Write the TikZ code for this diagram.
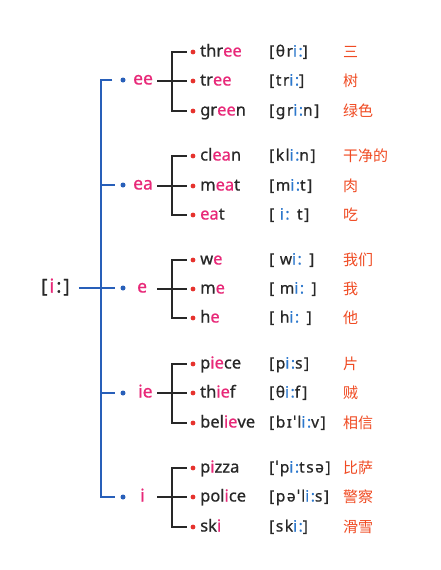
\documentclass[tikz,border=0pt]{standalone}
\usepackage{fontspec}
\setmainfont{Noto Sans}
\newfontfamily\wordfont[FakeBold=0.7]{Noto Sans}
\newfontfamily\phonfont[LetterSpace=10,FakeBold=0.7]{Noto Sans}
\newfontfamily\cjkfont{Noto Sans CJK SC}
\definecolor{ink}{RGB}{40,40,40}
\definecolor{bl}{RGB}{40,95,185}
\definecolor{pk}{RGB}{232,40,120}
\definecolor{rd}{RGB}{230,50,45}
\definecolor{cnred}{RGB}{240,75,35}
\definecolor{phb}{RGB}{45,120,205}
\newcommand\pinkpart[1]{\textcolor{pk}{#1}}
\newcommand\bluepart[1]{\textcolor{phb}{#1}}
\tikzset{
  wordtxt/.style={anchor=west, inner sep=0pt, text height=12pt, text depth=3pt, text=ink, font=\wordfont\fontsize{16.5}{18}\selectfont},
  phon/.style={anchor=west, inner sep=0pt, text height=12pt, text depth=3pt, text=ink, font=\phonfont\fontsize{15.5}{17}\selectfont},
  cn/.style={anchor=west, inner sep=0pt, text=cnred, font=\cjkfont\fontsize{15}{17}\selectfont},
  grp/.style={anchor=west, inner sep=0pt, text height=12pt, text depth=3pt, text=pk, font=\wordfont\fontsize{17.5}{19}\selectfont},
  rdot/.style={circle, fill=rd, inner sep=0pt, minimum size=4.8pt},
  bdot/.style={circle, fill=bl, inner sep=0pt, minimum size=5pt},
  blk/.style={draw=ink, line width=1.1pt},
  blu/.style={draw=bl, line width=1.3pt},
}
\newcommand\wrow[5]{%
  \node[rdot] (d#1) at (193,#2) {};
  \node[wordtxt] (w#1) at (200,#2) {#3};
  \node[phon] (p#1) at (269,#2) {#4};
  \node[cn] (c#1) at (343,#2) {#5};
}
\newcommand\grpbracket[5]{% name, y, row a, row b, row c
  \coordinate (j#1) at (172,#2);
  \coordinate (s#1) at (157,#2);
  \draw[blk] ([xshift=-3.5pt]d#3.west) -- (j#1 |- d#3) -- (j#1 |- d#5) -- ([xshift=-3.5pt]d#5.west);
  \draw[blk] (s#1 |- d#4) -- ([xshift=-3.5pt]d#4.west);
}
\begin{document}
\begin{tikzpicture}[x=1pt,y=-1pt]
\useasboundingbox[fill=white] (0,0) rectangle (440,570);

% root
\node[wordtxt, font=\wordfont\fontsize{19}{21}\selectfont] (root) at (41,288) {[\kern2pt\pinkpart{i}\kern2pt:\kern2pt]};

% group dots and labels
\node[bdot] (bee) at (123,80) {};
\node[grp] (gee) at (133,80) {ee};
\node[bdot] (bea) at (123,185) {};
\node[grp] (gea) at (133,185) {ea};
\node[bdot] (be) at (123,288) {};
\node[grp] (ge) at (137,288) {e};
\node[bdot] (bie) at (123,393) {};
\node[grp] (gie) at (138,393) {ie};
\node[bdot] (bi) at (123,497) {};
\node[grp] (gi) at (140,497) {i};

% rows
\wrow{three}{52}{thr\pinkpart{ee}}{[θr\bluepart{i:}]}{三}
\wrow{tree}{81}{tr\pinkpart{ee}}{[tr\bluepart{i:}]}{树}
\wrow{green}{111}{gr\pinkpart{ee}n}{[gr\bluepart{i:}n]}{绿色}
\wrow{clean}{156}{cl\pinkpart{ea}n}{[kl\bluepart{i:}n]}{干净的}
\wrow{meat}{186}{m\pinkpart{ea}t}{[m\bluepart{i:}t]}{肉}
\wrow{eat}{215}{\pinkpart{ea}t}{[ \bluepart{i:} t]}{吃}
\wrow{we}{260}{w\pinkpart{e}}{[ w\bluepart{i:} ]}{我们}
\wrow{me}{289}{m\pinkpart{e}}{[ m\bluepart{i:} ]}{我}
\wrow{he}{318}{h\pinkpart{e}}{[ h\bluepart{i:} ]}{他}
\wrow{piece}{364}{p\pinkpart{ie}ce}{[p\bluepart{i:}s]}{片}
\wrow{thief}{393}{th\pinkpart{ie}f}{[θ\bluepart{i:}f]}{贼}
\wrow{believe}{423}{bel\pinkpart{ie}ve}{[bɪˈl\bluepart{i:}v]}{相信}
\wrow{pizza}{468}{p\pinkpart{i}zza}{[ˈp\bluepart{i:}tsə]}{比萨}
\wrow{police}{497}{pol\pinkpart{i}ce}{[pəˈl\bluepart{i:}s]}{警察}
\wrow{ski}{527}{sk\pinkpart{i}}{[sk\bluepart{i:}]}{滑雪}

% black brackets
\grpbracket{ee}{80}{three}{tree}{green}
\grpbracket{ea}{185}{clean}{meat}{eat}
\grpbracket{e}{288}{we}{me}{he}
\grpbracket{ie}{393}{piece}{thief}{believe}
\grpbracket{i}{497}{pizza}{police}{ski}

% blue tree
\coordinate (vtop) at (101,80);
\coordinate (vbot) at (101,497);
\draw[blu] ([xshift=-8pt]bee.west) -- (vtop) -- (vbot) -- ([xshift=-5pt]bi.west);
\draw[blu] (vtop |- bea) -- ([xshift=-5pt]bea.west);
\draw[blu] (vtop |- bie) -- ([xshift=-5pt]bie.west);
\draw[blu] ([xshift=9pt]root.east) -- ([xshift=-5pt]be.west);
\end{tikzpicture}
\end{document}
